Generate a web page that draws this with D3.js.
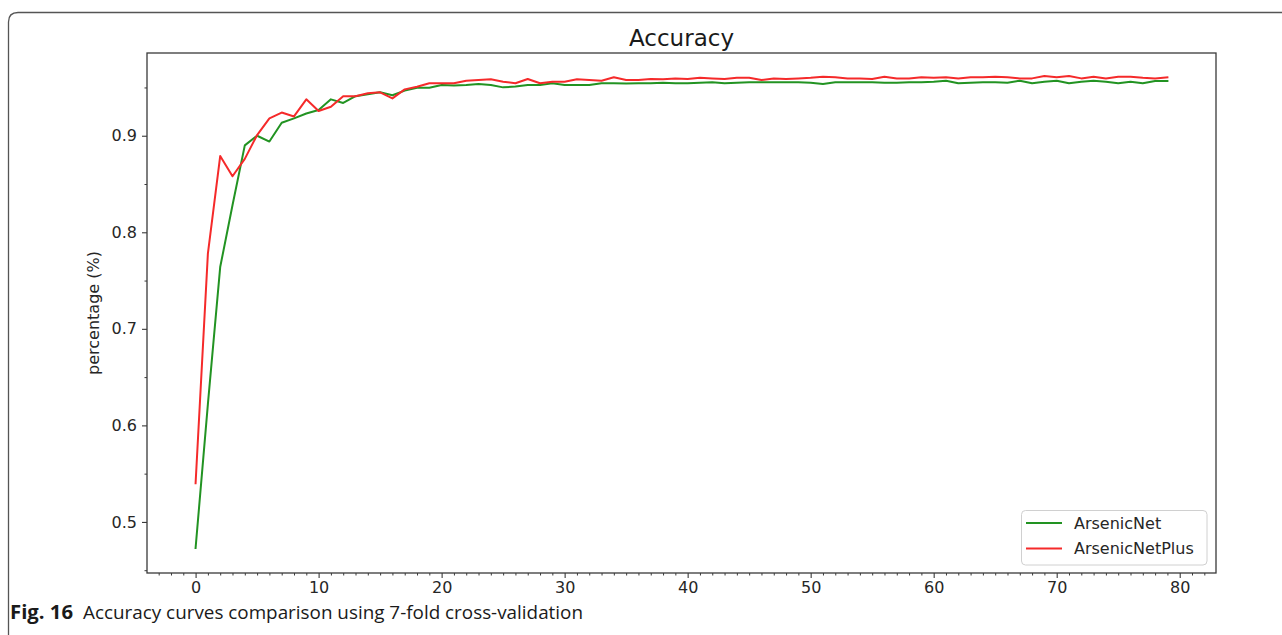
<!DOCTYPE html>
<html>
<head>
<meta charset="utf-8">
<script src="https://cdn.jsdelivr.net/npm/d3@7"></script>
<style>
  html, body { margin: 0; padding: 0; background: #fff; }
  svg { display: block; }
</style>
</head>
<body>
<svg id="chart" width="1282" height="635"></svg>
<script>
// Accuracy per epoch for the two networks (7-fold cross-validation)
const epochs = d3.range(0, 80);

const arsenicNet = [
  0.473, 0.622, 0.764, 0.828, 0.890, 0.900, 0.894, 0.9135, 0.918, 0.923,
  0.9266, 0.9377, 0.934, 0.941, 0.943, 0.945, 0.942, 0.9467, 0.9498, 0.9498,
  0.9525, 0.952, 0.9525, 0.9536, 0.9525, 0.9501, 0.951, 0.9525, 0.9525, 0.9543,
  0.9525, 0.9525, 0.9525, 0.9543, 0.9543, 0.954, 0.9543, 0.9543, 0.955, 0.9543,
  0.9543, 0.955, 0.9553, 0.9543, 0.955, 0.9553, 0.9553, 0.9553, 0.9553, 0.9553,
  0.955, 0.9536, 0.9553, 0.9553, 0.9553, 0.9553, 0.955, 0.955, 0.9553, 0.9553,
  0.956, 0.957, 0.9543, 0.955, 0.9553, 0.9553, 0.955, 0.957, 0.9543, 0.956,
  0.957, 0.9543, 0.956, 0.957, 0.956, 0.9543, 0.956, 0.9543, 0.9567, 0.9567
];

const arsenicNetPlus = [
  0.540, 0.778, 0.879, 0.858, 0.876, 0.9007, 0.918, 0.924, 0.920, 0.9377,
  0.9256, 0.930, 0.941, 0.941, 0.944, 0.945, 0.9387, 0.948, 0.9508, 0.9543,
  0.9543, 0.9543, 0.957, 0.9577, 0.9584, 0.956, 0.9543, 0.9588, 0.9543, 0.956,
  0.956, 0.9584, 0.9577, 0.957, 0.9605, 0.9577, 0.9577, 0.9588, 0.9584, 0.9594,
  0.9588, 0.9601, 0.9594, 0.9588, 0.9601, 0.9601, 0.9577, 0.9594, 0.9588, 0.9594,
  0.9601, 0.9611, 0.9605, 0.9594, 0.9594, 0.9588, 0.9612, 0.9594, 0.9594, 0.9605,
  0.9601, 0.9605, 0.9594, 0.9605, 0.9605, 0.9612, 0.9605, 0.9594, 0.9594, 0.9619,
  0.9605, 0.9619, 0.9594, 0.9612, 0.9594, 0.9612, 0.9612, 0.9601, 0.9594, 0.9605
];

const seriesNames = ["ArsenicNet", "ArsenicNetPlus"];
const seriesColors = ["#229322", "#f52a2a"];

const xTicks = [0, 10, 20, 30, 40, 50, 60, 70, 80];
const yTicks = [0.5, 0.6, 0.7, 0.8, 0.9];

const titleText = "Accuracy";
const yLabelText = "percentage (%)";
const captionLead = "Fig. 16";
const captionText = "Accuracy curves comparison using 7-fold cross-validation";

// ---- layout ----
const svg = d3.select("#chart");
const plot = { left: 147, top: 53, right: 1216, bottom: 573 };
const tickFont = "'DejaVu Sans', sans-serif";
const axisColor = "#3a3a3a";

const x = d3.scaleLinear().domain([-3.95, 82.95]).range([plot.left, plot.right]);
const y = d3.scaleLinear().domain([0.4471, 0.9857]).range([plot.bottom, plot.top]);

// outer figure frame (rounded top-left corner, open on the right and bottom)
svg.append("path")
  .attr("d", `M8.5,635 V22 Q8.5,12.5 18,12.5 H1282`)
  .attr("fill", "none")
  .attr("stroke", "#555")
  .attr("stroke-width", 1.3);

// x axis (bottom) with minor ticks
const xMinor = d3.range(-3, 83, 1).filter(v => v % 10 !== 0);
const gx = svg.append("g").attr("transform", `translate(0,${plot.bottom})`);
gx.call(d3.axisBottom(x).tickValues(xMinor).tickSize(2.5).tickFormat(""));
gx.call(g => g.selectAll(".tick line").attr("stroke", axisColor));
const gxMajor = svg.append("g").attr("transform", `translate(0,${plot.bottom})`)
  .call(d3.axisBottom(x).tickValues(xTicks).tickSize(5).tickPadding(4).tickFormat(d3.format("d")));
gxMajor.selectAll(".tick line").attr("stroke", axisColor).attr("stroke-width", 1.1);
gxMajor.selectAll(".tick text").attr("font-family", tickFont).attr("font-size", 16).attr("fill", "#262626");
svg.selectAll(".domain").remove();

// y axis (left) with minor ticks
const yMinor = [0.45, 0.55, 0.65, 0.75, 0.85, 0.95];
svg.append("g").attr("transform", `translate(${plot.left},0)`)
  .call(d3.axisLeft(y).tickValues(yMinor).tickSize(2.5).tickFormat(""))
  .call(g => g.selectAll(".tick line").attr("stroke", axisColor));
const gyMajor = svg.append("g").attr("transform", `translate(${plot.left},0)`)
  .call(d3.axisLeft(y).tickValues(yTicks).tickSize(5).tickPadding(5).tickFormat(d3.format(".1f")));
gyMajor.selectAll(".tick line").attr("stroke", axisColor).attr("stroke-width", 1.1);
gyMajor.selectAll(".tick text").attr("font-family", tickFont).attr("font-size", 16).attr("fill", "#262626");
svg.selectAll(".domain").remove();

// data lines
const line = d3.line().x((d, i) => x(epochs[i])).y(d => y(d));
[arsenicNet, arsenicNetPlus].forEach((values, k) => {
  svg.append("path")
    .datum(values)
    .attr("d", line)
    .attr("fill", "none")
    .attr("stroke", seriesColors[k])
    .attr("stroke-width", 2)
    .attr("stroke-linejoin", "round")
    .attr("stroke-linecap", "square");
});

// axes box
svg.append("rect")
  .attr("x", plot.left).attr("y", plot.top)
  .attr("width", plot.right - plot.left).attr("height", plot.bottom - plot.top)
  .attr("fill", "none").attr("stroke", axisColor).attr("stroke-width", 1.3);

// title
svg.append("text")
  .attr("x", (plot.left + plot.right) / 2).attr("y", 46)
  .attr("text-anchor", "middle")
  .attr("font-family", tickFont).attr("font-size", 23).attr("fill", "#1a1a1a")
  .text(titleText);

// y label
svg.append("text")
  .attr("transform", `translate(99,${(plot.top + plot.bottom) / 2}) rotate(-90)`)
  .attr("text-anchor", "middle")
  .attr("font-family", tickFont).attr("font-size", 16).attr("fill", "#262626")
  .text(yLabelText);

// legend
const legend = svg.append("g");
legend.append("rect")
  .attr("x", 1021.5).attr("y", 510.5).attr("width", 185.5).attr("height", 54.5)
  .attr("rx", 4).attr("fill", "#fff").attr("stroke", "#d0d0d0").attr("stroke-width", 1);
seriesNames.forEach((name, k) => {
  const ly = 523 + k * 25.5;
  legend.append("line")
    .attr("x1", 1026).attr("x2", 1062).attr("y1", ly).attr("y2", ly)
    .attr("stroke", seriesColors[k]).attr("stroke-width", 2);
  legend.append("text")
    .attr("x", 1074).attr("y", ly + 5.5)
    .attr("font-family", tickFont).attr("font-size", 16).attr("fill", "#262626")
    .text(name);
});

// caption
const captionFont = "'Liberation Sans Narrow', 'Open Sans', sans-serif";
svg.append("text")
  .attr("x", 10).attr("y", 619)
  .attr("font-family", captionFont).attr("font-size", 19).attr("font-weight", "bold").attr("fill", "#1a1a1a")
  .attr("textLength", 63).attr("lengthAdjust", "spacingAndGlyphs")
  .text(captionLead);
svg.append("text")
  .attr("x", 83).attr("y", 619)
  .attr("font-family", captionFont).attr("font-size", 19).attr("fill", "#1a1a1a")
  .attr("textLength", 500).attr("lengthAdjust", "spacingAndGlyphs")
  .text(captionText);
</script>
</body>
</html>
